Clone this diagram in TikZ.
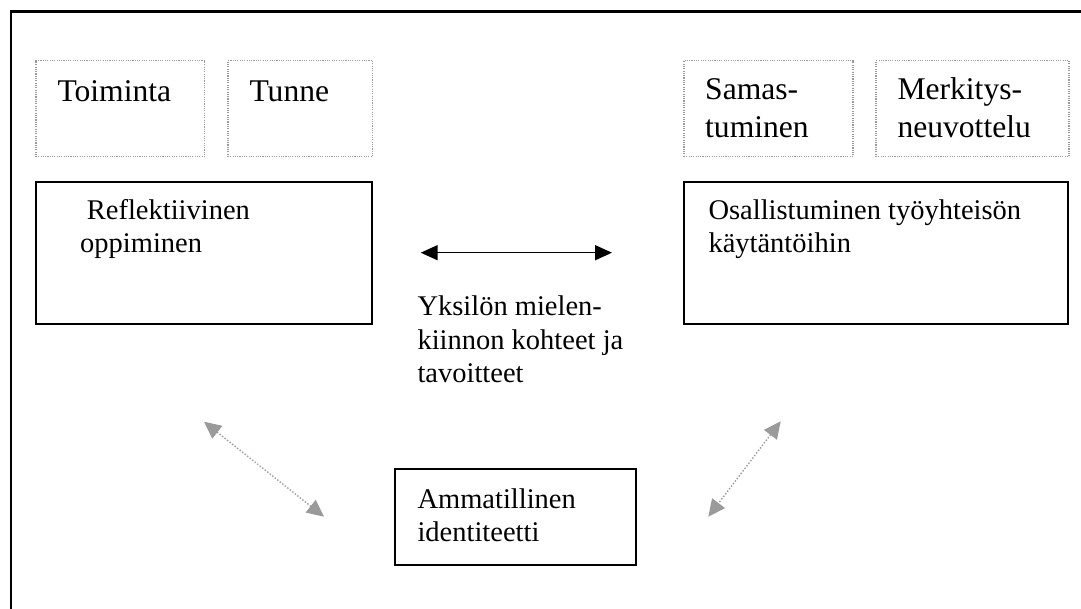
\documentclass[tikz,border=0pt]{standalone}
\usepackage{fontspec}
\setmainfont{Liberation Serif}
\usetikzlibrary{arrows.meta}
\definecolor{dotgray}{HTML}{9A9A9A}
\newcommand\bigtxt[1]{\parbox[t]{300pt}{\raggedright\fontsize{31.6}{37.5}\selectfont #1}}
\newcommand\smalltxt[1]{\parbox[t]{400pt}{\raggedright\fontsize{28.5}{33.4}\selectfont #1}}
\tikzset{
  solidbox/.style={draw=black, line width=1.8pt, inner sep=0pt},
  dotbox/.style={draw=dotgray, line width=1.1pt, dash pattern=on 1.1pt off 1.2pt, inner sep=0pt},
  txt/.style={anchor=base west, inner sep=0pt},
  blackarrow/.style={line width=1.6pt, black, {Triangle[length=17pt,width=15pt]}-{Triangle[length=17pt,width=15pt]}},
  grayarrow/.style={line width=1.4pt, dotgray, dash pattern=on 1.4pt off 1.8pt, {Triangle[length=17pt,width=16pt]}-{Triangle[length=17pt,width=16pt]}},
  frame/.style={line width=2.7pt, black}
}
\begin{document}
\begin{tikzpicture}[x=1pt,y=-1pt]
\useasboundingbox (0,0) rectangle (1081,609);
% outer frame (only left and top edges visible)
\coordinate (fbl) at (11,612);
\coordinate (ftl) at (11,11.3);
\coordinate (ftr) at (1084,11.3);
\draw[frame] (fbl) -- (ftl) -- (ftr);

% dotted boxes
\node[dotbox, minimum width=168.7pt, minimum height=96pt] (toim) at (120.3,108.7) {};
\node[dotbox, minimum width=144.7pt, minimum height=96pt] (tunne) at (300.3,108.7) {};
\node[dotbox, minimum width=169pt, minimum height=96pt] (samas) at (768.5,108.7) {};
\node[dotbox, minimum width=193pt, minimum height=96pt] (merk) at (972.5,108.7) {};
\node[txt] (toimt) at (57.3,101.7) {\bigtxt{Toiminta}};
\node[txt] (tunnet) at (249.3,101.7) {\bigtxt{Tunne}};
\node[txt] (samast) at (705,100) {\bigtxt{Samas-\\tuminen}};
\node[txt] (merkt) at (897.3,100) {\bigtxt{Merkitys-\\neuvottelu}};

% solid boxes
\node[solidbox, minimum width=336pt, minimum height=142.3pt] (refl) at (204,252.8) {};
\node[solidbox, minimum width=384pt, minimum height=142.3pt] (osal) at (876,252.8) {};
\node[solidbox, minimum width=241pt, minimum height=95.7pt] (amm) at (515.5,517.2) {};
\node[txt] (reflt) at (80,219.3) {\smalltxt{\hspace*{6.7pt}Reflektiivinen\\oppiminen}};
\node[txt] (osalt) at (708.3,219.3) {\smalltxt{Osallistuminen työyhteisön\\käytäntöihin}};
\node[txt] (ammt) at (417.3,508.3) {\smalltxt{Ammatillinen\\identiteetti}};
\node[txt] (yks) at (417.3,316) {\smalltxt{Yksilön mielen-\\kiinnon kohteet ja\\tavoitteet}};

% arrows
\coordinate (hl) at (420.7,252.7);
\coordinate (hr) at (612,252.7);
\draw[blackarrow] (hl) -- (hr);
\coordinate (la) at (204,421.7);
\coordinate (lb) at (324,516.7);
\draw[grayarrow] (la) -- (lb);
\coordinate (ra) at (780.7,421.3);
\coordinate (rb) at (708.3,516.7);
\draw[grayarrow] (ra) -- (rb);
\end{tikzpicture}
\end{document}
